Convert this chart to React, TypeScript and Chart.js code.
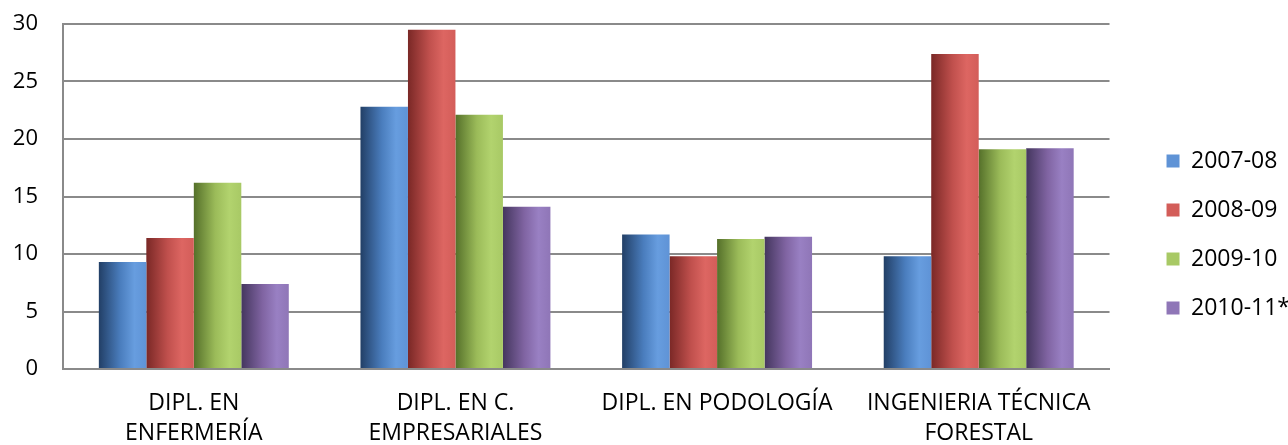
import React, { useEffect, useRef } from "react";
import { Chart, registerables } from "chart.js";

Chart.register(...registerables);

const categories: (string | string[])[] = [
  ["DIPL. EN", "ENFERMERÍA"],
  ["DIPL. EN C.", "EMPRESARIALES"],
  "DIPL. EN PODOLOGÍA",
  ["INGENIERIA TÉCNICA", "FORESTAL"],
];
const seriesNames = ["2007-08", "2008-09", "2009-10", "2010-11*"];
const values2007 = [9.3, 22.8, 11.7, 9.8];
const values2008 = [11.4, 29.5, 9.8, 27.4];
const values2009 = [16.2, 22.1, 11.3, 19.1];
const values2010 = [7.4, 14.1, 11.5, 19.2];
const yMin = 0;
const yMax = 30;
const yStep = 5;

const CAT_PCT = 0.726;
const FONT = "'Open Sans', 'Liberation Sans', sans-serif";
const LEGEND_SHIFT = 31;

// [dark, mid, light, edge]
const palettes = [
  ["#223f66", "#4a7dbd", "#679ddf", "#5f93d6"],
  ["#7a2826", "#c0504d", "#dd6662", "#d35d59"],
  ["#55702a", "#9bbb59", "#b2d36e", "#a8c965"],
  ["#44365e", "#8064a2", "#9980c3", "#8f76b7"],
];

function barFill(ctx: any) {
  const pal = palettes[ctx.datasetIndex % palettes.length];
  const chart = ctx.chart;
  const xs = chart.scales && chart.scales.x;
  if (ctx.type !== "data" || !xs || !xs.width) return pal[1];
  const n = chart.data.labels.length;
  const nd = chart.data.datasets.length;
  const catW = xs.width / n;
  const groupW = catW * CAT_PCT;
  const barW = groupW / nd;
  const left = xs.getPixelForValue(ctx.dataIndex) - groupW / 2 + ctx.datasetIndex * barW;
  const g = chart.ctx.createLinearGradient(left, 0, left + barW, 0);
  g.addColorStop(0, pal[0]);
  g.addColorStop(0.45, pal[1]);
  g.addColorStop(0.75, pal[2]);
  g.addColorStop(1, pal[3]);
  return g;
}

const legendShift = {
  id: "legendShift",
  afterLayout(chart: any) {
    const lg = chart.legend;
    if (lg) {
      lg.left += LEGEND_SHIFT;
      lg.right += LEGEND_SHIFT;
    }
  },
};

export default function App() {
  const ref = useRef<HTMLCanvasElement | null>(null);
  useEffect(() => {
    document.body.style.margin = "0";
    const canvas = ref.current;
    if (!canvas) return;
    const seriesValues = [values2007, values2008, values2009, values2010];
    const chart = new Chart(canvas, {
      type: "bar",
      data: {
        labels: categories,
        datasets: seriesNames.map((name, i) => ({
          label: name,
          data: seriesValues[i],
          backgroundColor: barFill,
          borderWidth: 0,
          barPercentage: 1,
          categoryPercentage: CAT_PCT,
        })),
      },
      plugins: [legendShift],
      options: {
        responsive: false,
        animation: false,
        devicePixelRatio: 1,
        layout: { padding: { left: 13, top: 24, right: 19, bottom: 0 } },
        plugins: {
          tooltip: { enabled: false },
          legend: {
            position: "right",
            labels: {
              boxWidth: 13,
              boxHeight: 13,
              padding: 26,
              color: "#000",
              font: { family: FONT, size: 23 },
            },
          },
        },
        scales: {
          x: {
            grid: { display: false, drawTicks: false },
            border: { display: true, color: "#8a8a8a", width: 2 },
            ticks: {
              color: "#000",
              padding: 20,
              maxRotation: 0,
              autoSkip: false,
              font: { family: FONT, size: 23, lineHeight: 1.3 },
            },
            afterFit(scale: any) {
              scale.height = 76;
            },
          },
          y: {
            min: yMin,
            max: yMax,
            ticks: {
              stepSize: yStep,
              color: "#000",
              padding: 0,
              font: { family: FONT, size: 22 },
            },
            grid: {
              color: "#8a8a8a",
              lineWidth: 2,
              drawTicks: true,
              tickLength: 25,
              tickColor: "rgba(0,0,0,0)",
            },
            border: { display: true, color: "#8a8a8a", width: 2 },
            afterFit(scale: any) {
              scale.width = 50;
            },
          },
        },
      },
    });
    return () => chart.destroy();
  }, []);
  return (
    <div style={{ width: 1288, height: 445, position: "relative", background: "#fff" }}>
      <canvas ref={ref} width={1288} height={445} />
    </div>
  );
}
